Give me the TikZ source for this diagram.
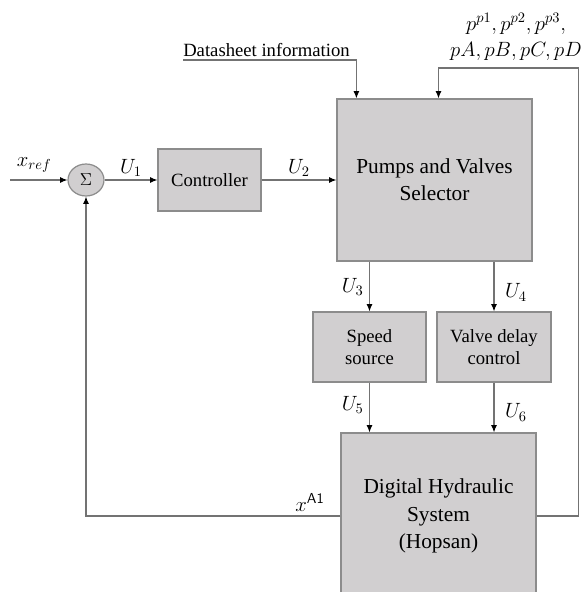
\documentclass[tikz,border=0pt]{standalone}
\usepackage{fix-cm}
\usepackage{amsmath}
\usepackage{fontspec}
\setmainfont{Liberation Serif}
\usepackage{tikz}
\usetikzlibrary{arrows.meta,shapes.geometric,calc}

\definecolor{boxfill}{RGB}{209,207,208}
\definecolor{boxline}{RGB}{140,140,140}
\definecolor{wire}{RGB}{115,115,115}

\begin{document}
\begin{tikzpicture}[
  x=0.75pt, y=-0.75pt,
  block/.style={draw=boxline, fill=boxfill, line width=0.9pt, align=center,
    inner sep=0pt},
  bigblock/.style={block, minimum width=146.25pt,
    font=\rmfamily\fontsize{16}{20.5}\selectfont},
  smallblock/.style={block, minimum height=52.5pt,
    font=\rmfamily\fontsize{14}{17}\selectfont},
  sumnode/.style={ellipse, draw=boxline, fill=boxfill, line width=0.9pt,
    minimum width=27pt, minimum height=24pt, inner sep=0pt,
    font=\fontsize{13}{15}\selectfont},
  arr/.style={draw=wire, line width=0.8pt, -{Latex[length=5.5pt,width=4.5pt,black]}},
  lbl/.style={font=\fontsize{15.5}{18}\selectfont, inner sep=1pt},
]
\useasboundingbox (0,0) rectangle (582,592);
\clip (0,0) rectangle (582,592);

% blocks
\node[sumnode] (sum) at (86,180) {$\Sigma$};
\node[block, minimum width=77.25pt, minimum height=46.5pt,
  font=\rmfamily\fontsize{14}{17}\selectfont] (ctrl) at (209.5,180) {Controller};
\node[bigblock, minimum height=121.5pt] (sel) at (434.5,180)
  {Pumps and Valves\\Selector};
\node[smallblock, minimum width=84.75pt] (speed) at (369.5,347) {Speed\\source};
\node[smallblock, minimum width=85.5pt] (valve) at (494,347) {Valve delay\\control};
\node[bigblock, minimum height=124.5pt] (hyd) at (438.5,516)
  {Digital Hydraulic\\System\\(Hopsan)};

% inputs on top
\node[font=\rmfamily\fontsize{14}{16}\selectfont, inner xsep=0pt, inner ysep=2pt,
  anchor=south west] (ds) at (183,60) {Datasheet information};
\node[lbl, align=center, font=\fontsize{15.5}{20}\selectfont] (press) at (516,37)
  {$p^{p1}, p^{p2}, p^{p3},$\\$pA, pB, pC, pD$};
\coordinate (xin) at (10,180);

% forward path
\draw[arr] (xin) -- (sum.west) node[lbl, pos=0.42, above=4pt] {$x_{ref}$};
\draw[arr] (sum.east) -- (ctrl.west) node[lbl, midway, above=1pt] {$U_1$};
\draw[arr] (ctrl.east) -- (sel.west) node[lbl, midway, above=1pt] {$U_2$};
\draw[arr] (ds.south west) -| ([xshift=15pt]sel.north west);
\draw[arr] (speed.north |- sel.south) -- (speed.north)
  node[lbl, midway, left=3pt] {$U_3$};
\draw[arr] (valve.north |- sel.south) -- (valve.north)
  node[lbl, pos=0.62, right=7pt] {$U_4$};
\draw[arr] (speed.south) -- (speed.south |- hyd.north)
  node[lbl, pos=0.45, left=3pt] {$U_5$};
\draw[arr] (valve.south) -- (valve.south |- hyd.north)
  node[lbl, pos=0.6, right=7pt] {$U_6$};

% feedback loops
\draw[arr] (hyd.west) -| (sum.south)
  node[lbl, pos=0.06, above=2pt] {$x^{\mathsf{A1}}$};
\draw[arr] (hyd.east) -- ++(42,0) -- ++(0,-448) -| ([xshift=3pt]sel.north);
\end{tikzpicture}
\end{document}
